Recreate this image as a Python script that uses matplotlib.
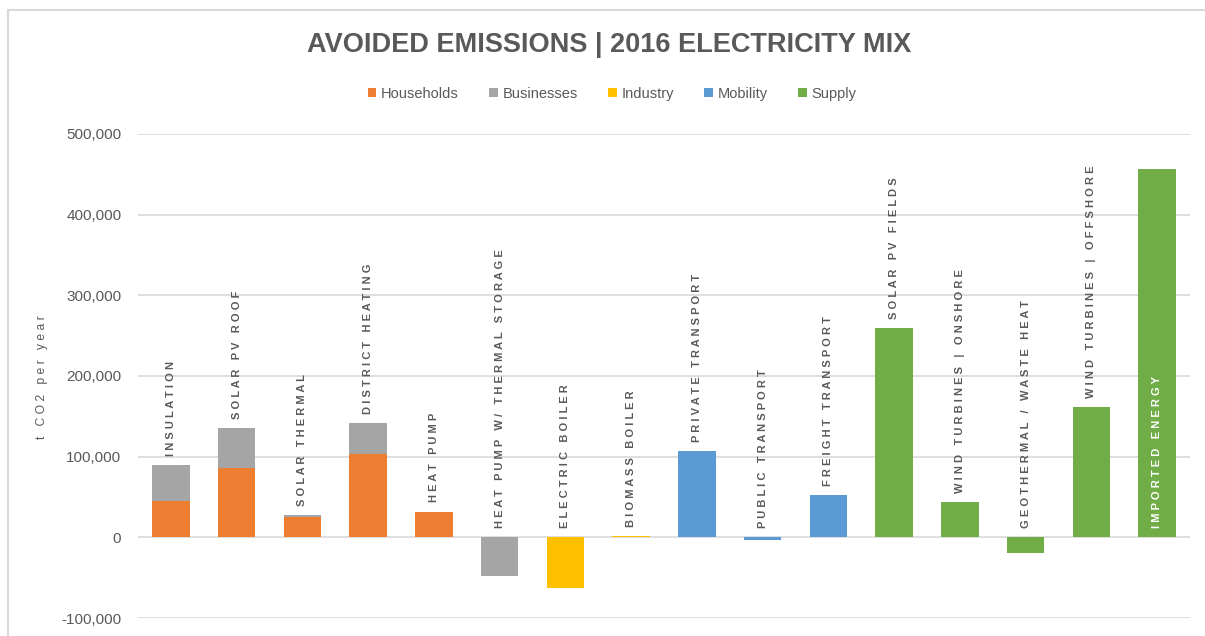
import matplotlib
matplotlib.use("Agg")
import matplotlib.pyplot as plt
from matplotlib.patches import Patch
from matplotlib.lines import Line2D
from matplotlib.ticker import FuncFormatter
import numpy as np

# ---- data (t CO2 per year) ----
categories = [
    "INSULATION", "SOLAR PV ROOF", "SOLAR THERMAL", "DISTRICT HEATING",
    "HEAT PUMP", "HEAT PUMP W/ THERMAL STORAGE", "ELECTRIC BOILER",
    "BIOMASS BOILER", "PRIVATE TRANSPORT", "PUBLIC TRANSPORT",
    "FREIGHT TRANSPORT", "SOLAR PV FIELDS", "WIND TURBINES | ONSHORE",
    "GEOTHERMAL / WASTE HEAT", "WIND TURBINES | OFFSHORE", "IMPORTED ENERGY",
]
households = [45000, 86000, 25000, 103000, 32000, 0, 0, 0, 0, 0, 0, 0, 0, 0, 0, 0]
businesses = [44500, 50000, 3000, 39000, 0, -48000, 0, 0, 0, 0, 0, 0, 0, 0, 0, 0]
industry = [0, 0, 0, 0, 0, 0, -63000, 2000, 0, 0, 0, 0, 0, 0, 0, 0]
mobility = [0, 0, 0, 0, 0, 0, 0, 0, 106500, -3000, 52000, 0, 0, 0, 0, 0]
supply = [0, 0, 0, 0, 0, 0, 0, 0, 0, 0, 0, 260000, 43500, -19500, 161000, 457000]

series_names = ["Households", "Businesses", "Industry", "Mobility", "Supply"]
series_values = [households, businesses, industry, mobility, supply]
y_ticks = [-100000, 0, 100000, 200000, 300000, 400000, 500000]

# ---- styling ----
colors = ["#ED7D31", "#A5A5A5", "#FFC000", "#5B9BD5", "#70AD47"]
text_gray = "#595959"
grid_gray = "#D9D9D9"
inside_base_labels = {"IMPORTED ENERGY"}

plt.rcParams["font.family"] = ["Liberation Sans", "DejaVu Sans"]


def spaced(s, gap=" "):
    return gap.join(list(s))


fig = plt.figure(figsize=(12.05, 6.36), dpi=100)
W, H = 1205, 636
ax = fig.add_axes([138 / W, (H - 618) / H, (1190 - 138) / W, (618 - 134) / H])

x = np.arange(len(categories))
width = 0.57

pos_base = np.zeros(len(categories))
neg_base = np.zeros(len(categories))
for name, vals, col in zip(series_names, series_values, colors):
    v = np.array(vals, dtype=float)
    bottom = np.where(v >= 0, pos_base, neg_base)
    ax.bar(x, v, width, bottom=bottom, color=col, label=name, zorder=3,
           linewidth=0)
    pos_base = pos_base + np.where(v > 0, v, 0)
    neg_base = neg_base + np.where(v < 0, v, 0)

ax.set_xlim(-0.5, len(categories) - 0.5)
ax.set_ylim(-100000, 500000)
ax.set_yticks(y_ticks)
ax.yaxis.set_major_formatter(FuncFormatter(lambda v, p: f"{int(v):,}"))
ax.tick_params(axis="y", length=0, pad=12, labelsize=11, labelcolor=text_gray)
ax.set_xticks([])
for s in ax.spines.values():
    s.set_visible(False)
ax.grid(axis="y", color=grid_gray, linewidth=1.2, zorder=0)
ax.set_axisbelow(True)

# category labels, vertical, above each bar
for i, cat in enumerate(categories):
    if cat in inside_base_labels:
        ax.annotate(spaced(cat), xy=(x[i], 0), xytext=(0, 7),
                    textcoords="offset points", rotation=90, ha="center",
                    va="bottom", fontsize=8, fontweight="bold", color="white",
                    zorder=5)
    else:
        ax.annotate(spaced(cat), xy=(x[i], pos_base[i]), xytext=(0, 6.5),
                    textcoords="offset points", rotation=90, ha="center",
                    va="bottom", fontsize=8, fontweight="bold",
                    color=text_gray, zorder=5)

# axis title
fig.text(42 / W, 1 - 377 / H, spaced("t CO2 per year"), rotation=90,
         ha="center", va="center", fontsize=8.7, color=text_gray)

# chart title
fig.text(609 / W, 1 - 45 / H, "AVOIDED EMISSIONS | 2016 ELECTRICITY MIX",
         ha="center", va="center", fontsize=19.5, fontweight="bold",
         color=text_gray)

# legend
handles = [Patch(facecolor=c, edgecolor="none", label=n)
           for n, c in zip(series_names, colors)]
fig.legend(handles=handles, loc="center", bbox_to_anchor=(612 / W, 1 - 94 / H),
           ncol=5, frameon=False, fontsize=10.5, handlelength=0.6,
           handleheight=0.6, handletextpad=0.3, columnspacing=2.1,
           labelcolor=text_gray)

# chart border
fig.add_artist(Line2D([8 / W, 1.0], [1 - 10 / H, 1 - 10 / H],
                      transform=fig.transFigure, color=grid_gray, linewidth=1.5))
fig.add_artist(Line2D([8 / W, 8 / W], [1 - 10 / H, 0],
                      transform=fig.transFigure, color=grid_gray, linewidth=1.5))

fig.savefig("out.png", dpi=100)
